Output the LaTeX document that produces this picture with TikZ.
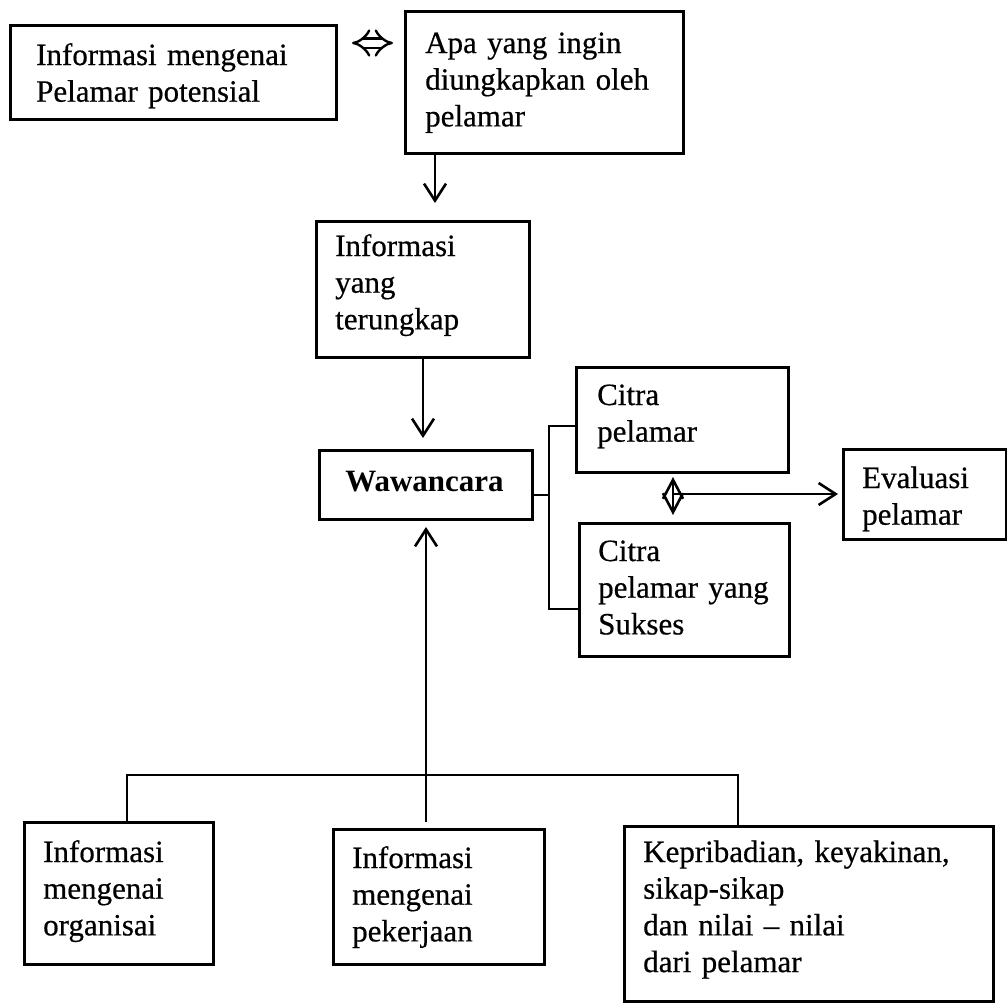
\documentclass[tikz,border=0pt]{standalone}
\usepackage{fontspec}
\setmainfont{Liberation Serif}[UprightFeatures={FakeBold=0.5}]
\usetikzlibrary{arrows.meta,calc}
\newcommand\bodysize{\fontsize{31}{36.7}\selectfont}

\begin{document}
\begin{tikzpicture}[x=1pt,y=-1pt,
  box/.style={draw, line width=3pt, inner sep=0pt, anchor=north west},
  lbl/.style={anchor=base west, inner sep=0pt, align=left, font=\bodysize},
  conn/.style={line width=2.6pt},
  arr/.style={conn, -{Straight Barb[length=17pt,width=22pt]}},
]
% canvas
\fill[white] (0,0) rectangle (1007,1002);
\useasboundingbox (0,0) rectangle (1007,1002);

% ---- boxes ----
\node[box, minimum width=326pt, minimum height=94pt]  (potensial)   at (9,24)   {};
\node[box, minimum width=278pt, minimum height=142pt] (ungkap)      at (404,10) {};
\node[box, minimum width=213pt, minimum height=136pt] (terungkap)   at (315,220) {};
\node[box, minimum width=213pt, minimum height=69pt]  (wawancara)   at (318,449) {};
\node[box, minimum width=212pt, minimum height=105pt] (citra)       at (575,366) {};
\node[box, minimum width=210pt, minimum height=133pt] (citrasukses) at (578,522) {};
\node[box, minimum width=163pt, minimum height=90pt]  (evaluasi)    at (842,448) {};
\node[box, minimum width=189pt, minimum height=142pt] (organisasi)  at (23,821) {};
\node[box, minimum width=211pt, minimum height=135pt] (pekerjaan)   at (332,828) {};
\node[box, minimum width=369pt, minimum height=175pt] (kepribadian) at (623,825) {};

% ---- texts ----
\node[lbl, text width=290pt] (tpotensial) at (36,65)  {Informasi mengenai\\Pelamar potensial};
\node[lbl, text width=250pt] (tungkap)    at (425,53) {Apa yang ingin\\diungkapkan oleh\\pelamar};
\node[lbl, text width=190pt] (tterungkap) at (335,256) {Informasi\\yang\\terungkap};
\node[anchor=base, inner sep=0pt, font=\bodysize\bfseries] (twawancara) at (424.5,491) {Wawancara};
\node[lbl, text width=185pt] (tcitra)       at (597,405) {Citra\\pelamar};
\node[lbl, text width=185pt] (tcitrasukses) at (598,561) {Citra\\pelamar yang\\Sukses};
\node[lbl, text width=140pt] (tevaluasi)    at (862,488) {Evaluasi\\pelamar};
\node[lbl, text width=165pt] (torganisasi)  at (43,862)  {Informasi\\mengenai\\organisai};
\node[lbl, text width=185pt] (tpekerjaan)   at (352,868) {Informasi\\mengenai\\pekerjaan};
\node[lbl, text width=345pt] (tkepribadian) at (643,862) {Kepribadian, keyakinan,\\sikap-sikap\\dan nilai -- nilai\\dari pelamar};

% ---- connectors ----
% two-way link between the two top boxes
\coordinate (dl) at (352,43);
\coordinate (dr) at (393,43);
\draw[line width=2.4pt, double distance=7pt, {Implies[]}-{Implies[]}] (dl) -- (dr);

% top box down towards the revealed information
\coordinate (a1) at (435,203);
\draw[arr] (ungkap.south -| a1) -- (a1);

% revealed information into the interview
\draw[arr, shorten >=11pt] (terungkap.south) -- (terungkap.south |- wawancara.north);

% the three sources feeding the interview
\coordinate (barL) at (127,775);
\coordinate (barR) at (738,775);
\draw[conn] (organisasi.north -| barL) -- (barL) -- (barR) -- (kepribadian.north -| barR);
\draw[arr, shorten <=6pt, shorten >=6pt] (wawancara.south |- pekerjaan.north) -- (wawancara.south);

% bracket joining the interview to both images
\coordinate (brM) at (549,495);
\coordinate (brT) at (549,426);
\coordinate (brB) at (549,609);
\draw[conn] (wawancara.east |- brM) -- (brM);
\draw[conn, line cap=rect] (citra.west |- brT) -- (brT) -- (brB) -- (citrasukses.west |- brB);

% comparison of the two images and the evaluation
\coordinate (vt) at (673,477);
\coordinate (vb) at (673,515);
\coordinate (vm) at (673,494);
\draw[conn, {Straight Barb[length=19pt,width=20pt]}-{Straight Barb[length=19pt,width=20pt]}] (vt) -- (vb);
\draw[arr, shorten >=4pt] (vm) -- (vm -| evaluasi.west);
\end{tikzpicture}
\end{document}
